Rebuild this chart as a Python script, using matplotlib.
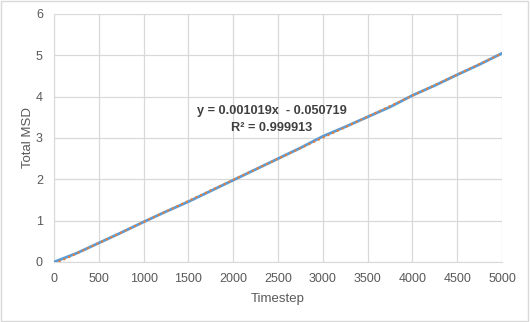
import matplotlib.pyplot as plt
import numpy as np

# MSD
timestep = [0, 250, 500, 750, 1000, 1250, 1500, 1750, 2000, 2250, 2500,
            2750, 3000, 3250, 3500, 3750, 4000, 4250, 4500, 4750, 5000]
total_msd = [0.00, 0.21, 0.46, 0.71, 0.97, 1.22, 1.46, 1.72, 1.98, 2.24, 2.50,
             2.76, 3.04, 3.27, 3.51, 3.75, 4.03, 4.27, 4.53, 4.78, 5.05]

# linear trendline shown on the chart
slope = 0.001019
intercept = -0.050719
r2 = 0.999913

grey = '#595959'
grid = '#D9D9D9'

plt.rcParams['font.family'] = ['Liberation Sans', 'DejaVu Sans']

fig = plt.figure(figsize=(5.3, 3.22), dpi=100)
ax = fig.add_axes([54 / 530, 1 - 262 / 322, 448 / 530, 248 / 322])

ax.plot(timestep, total_msd, color='#5B9BD5', lw=2.0, zorder=3)
tx = np.array([timestep[0], timestep[-1]])
ax.plot(tx, slope * tx + intercept, color='#ED7D31', lw=1.5, ls=(0, (1, 1.5)), zorder=4)

ax.set_xlim(0, 5000)
ax.set_ylim(0, 6)
ax.set_xticks(np.arange(0, 5001, 500))
ax.set_yticks(np.arange(0, 7, 1))
ax.grid(True, color=grid, lw=0.9)
ax.set_axisbelow(True)
for s in ['top', 'right']:
    ax.spines[s].set_visible(False)
ax.spines['left'].set_color(grid)
ax.spines['bottom'].set_color(grid)
ax.tick_params(length=0, colors=grey, labelsize=9, pad=8)

ax.set_xlabel('Timestep', color=grey, fontsize=9.5, labelpad=6)
ax.set_ylabel('Total MSD', color=grey, fontsize=9.5, labelpad=1.5)

ax.text(2433, 3.66, f'y = {slope:.6f}x  - {-intercept:.6f}', ha='center', va='center',
        fontsize=9.2, fontweight='bold', color='#404040')
ax.text(2433, 3.25, f'R² = {r2:.6f}', ha='center', va='center',
        fontsize=9.2, fontweight='bold', color='#404040')

fig.patches.append(plt.Rectangle((0.002, 0.003), 0.995, 0.993, transform=fig.transFigure,
                                 fill=False, edgecolor=grid, lw=1.0))

fig.savefig('out.png', dpi=100)
